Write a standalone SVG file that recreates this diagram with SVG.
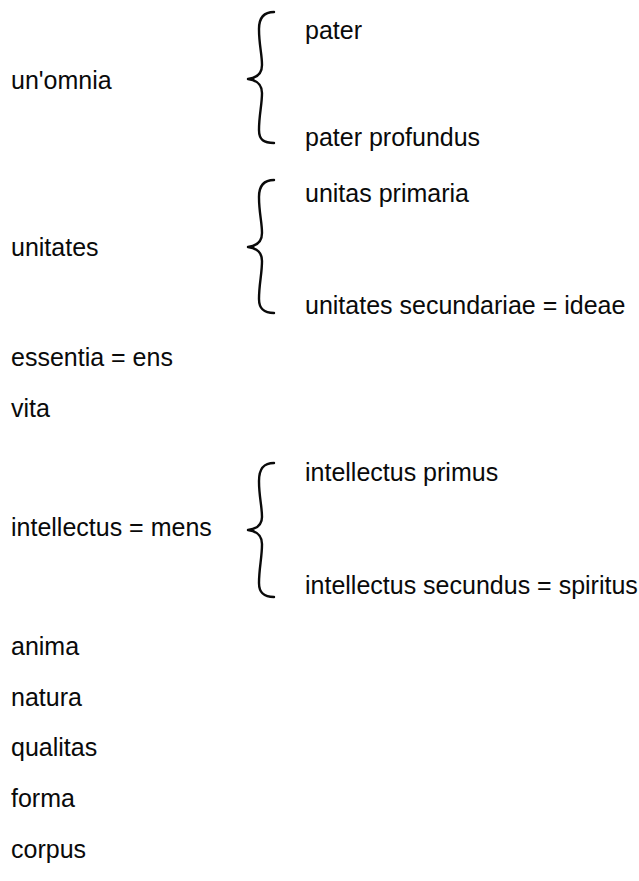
<svg xmlns="http://www.w3.org/2000/svg" width="639" height="881" viewBox="0 0 639 881">
<style>
text{font-family:"Liberation Sans",Arial,sans-serif;font-size:25px;fill:#0a0a0a}
.brace{fill:none;stroke:#0a0a0a;stroke-width:2.4;stroke-linecap:round;stroke-linejoin:round}
</style>
<rect width="639" height="881" fill="#fff"/>
<g id="n-unomnia"><text x="11" y="89">un'omnia</text></g>
<g id="n-pater"><text x="305" y="39">pater</text></g>
<g id="n-pater-profundus"><text x="305" y="146">pater profundus</text></g>
<g id="n-unitates"><text x="11" y="256">unitates</text></g>
<g id="n-unitas-primaria"><text x="305" y="202">unitas primaria</text></g>
<g id="n-unitates-secundariae"><text x="305" y="314">unitates secundariae = ideae</text></g>
<g id="n-essentia"><text x="11" y="366">essentia = ens</text></g>
<g id="n-vita"><text x="11" y="417">vita</text></g>
<g id="n-intellectus"><text x="11" y="536">intellectus = mens</text></g>
<g id="n-intellectus-primus"><text x="305" y="481">intellectus primus</text></g>
<g id="n-intellectus-secundus"><text x="305" y="594">intellectus secundus = spiritus</text></g>
<g id="n-anima"><text x="11" y="655">anima</text></g>
<g id="n-natura"><text x="11" y="706">natura</text></g>
<g id="n-qualitas"><text x="11" y="756">qualitas</text></g>
<g id="n-forma"><text x="11" y="807">forma</text></g>
<g id="n-corpus"><text x="11" y="858">corpus</text></g>
<g id="connectors">
<path class="brace" d="M274,12 C264,12 259,17 259,29 C259,45 262,54 262,65 C262,74 256,78 248,79 C256,80 262,84 262,93 C262,105 259,115 259,130 C259,140 264,143 274,143"/>
<path class="brace" d="M274,180 C264,180 259,185 259,197 C259,213 262,222 262,233 C262,242 256,246 248,247 C256,248 262,252 262,261 C262,274 259,284 259,299 C259,309 264,313 274,313"/>
<path class="brace" d="M274,463 C264,463 259,468 259,481 C259,497 262,506 262,517 C262,526 256,529 248,530 C256,531 262,535 262,544 C262,558 259,568 259,583 C259,593 264,597 274,597"/>
</g>
</svg>
